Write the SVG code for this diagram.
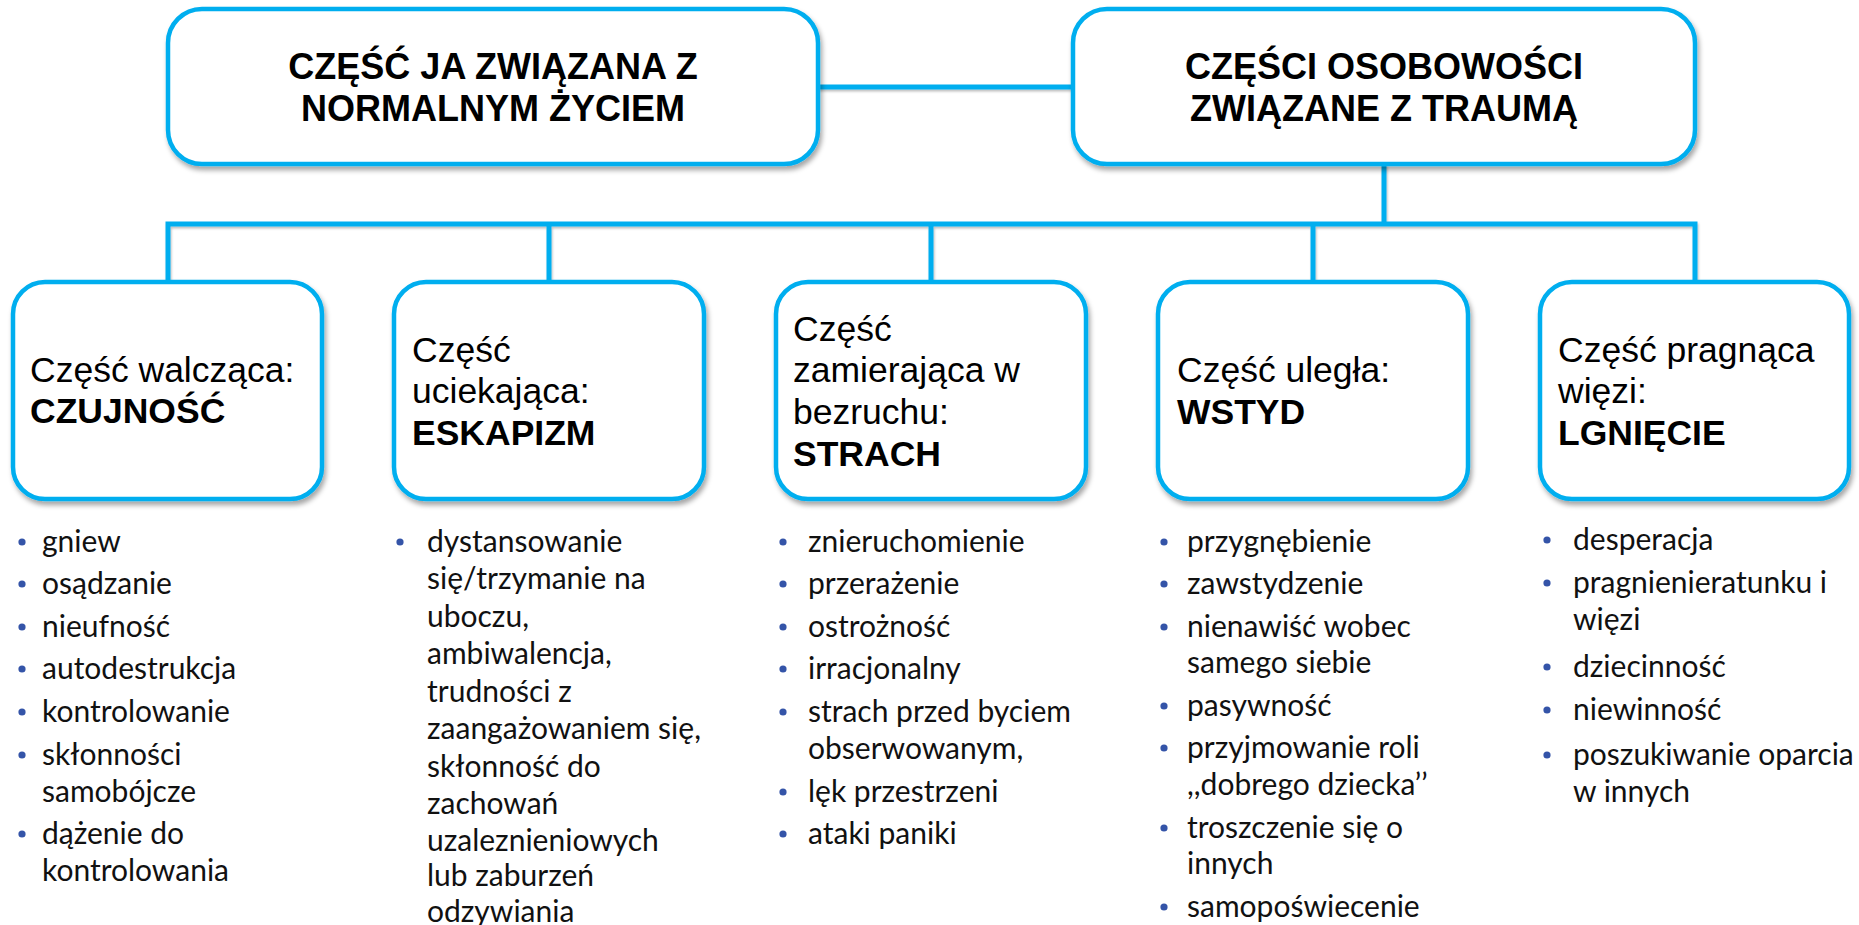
<svg xmlns="http://www.w3.org/2000/svg" width="1859" height="925" viewBox="0 0 1859 925">
  <defs>
    <filter id="sh" x="-10%" y="-10%" width="125%" height="130%">
      <feDropShadow dx="2" dy="4" stdDeviation="2.5" flood-color="#000" flood-opacity="0.35"/>
    </filter>
    <!-- user-space region so straight (zero-width/height) lines still render -->
    <filter id="lsh" filterUnits="userSpaceOnUse" x="0" y="0" width="1859" height="925">
      <feDropShadow dx="1" dy="2" stdDeviation="1.2" flood-color="#000" flood-opacity="0.25"/>
    </filter>
  </defs>
  <style>
    .box { fill:#ffffff; stroke:#00AEEF; stroke-width:4.5; filter:url(#sh); }
    .conn { stroke:#00AEEF; stroke-width:5; fill:none; }
    .head { font-family:"Liberation Sans", Arial, sans-serif; font-weight:bold; font-size:36px; text-anchor:middle; fill:#000; }
    .lbl { font-family:"Liberation Sans", Arial, sans-serif; font-size:35.5px; fill:#000; }
    .b { font-weight:bold; }
    .li { font-family:Lato, "Open Sans", sans-serif; font-size:30px; fill:#111; }
    .dot { fill:#3454A8; }
  </style>
  <rect width="1859" height="925" fill="#ffffff"/>

  <!-- connectors -->
  <g id="connectors" filter="url(#lsh)">
    <path class="conn" d="M818 87 H1073"/>
    <path class="conn" d="M1384 164 V224"/>
    <path class="conn" d="M168 282 V224 H1695 V282"/>
    <path class="conn" d="M549 224 V282"/>
    <path class="conn" d="M931 224 V282"/>
    <path class="conn" d="M1313 224 V282"/>
  </g>

  <!-- top level -->
  <g id="normal-life">
    <rect class="box" x="168" y="9" width="650" height="155" rx="34"/>
    <text class="head" x="493" y="79">CZĘŚĆ JA ZWIĄZANA Z</text>
    <text class="head" x="493" y="121">NORMALNYM ŻYCIEM</text>
  </g>
  <g id="trauma-parts">
    <rect class="box" x="1073" y="9" width="622" height="155" rx="34"/>
    <text class="head" x="1384" y="79">CZĘŚCI OSOBOWOŚCI</text>
    <text class="head" x="1384" y="121">ZWIĄZANE Z TRAUMĄ</text>
  </g>

  <!-- parts -->
  <g id="fight">
    <rect class="box" x="13" y="282" width="309" height="217" rx="32"/>
    <text class="lbl" x="30" y="382">Część walcząca:</text>
    <text class="lbl b" x="30" y="423">CZUJNOŚĆ</text>
  </g>
  <g id="flight">
    <rect class="box" x="394" y="282" width="310" height="217" rx="32"/>
    <text class="lbl" x="412" y="362">Część</text>
    <text class="lbl" x="412" y="403">uciekająca:</text>
    <text class="lbl b" x="412" y="445">ESKAPIZM</text>
  </g>
  <g id="freeze">
    <rect class="box" x="776" y="282" width="310" height="217" rx="32"/>
    <text class="lbl" x="793" y="341">Część</text>
    <text class="lbl" x="793" y="382">zamierająca w</text>
    <text class="lbl" x="793" y="424">bezruchu:</text>
    <text class="lbl b" x="793" y="466">STRACH</text>
  </g>
  <g id="submit">
    <rect class="box" x="1158" y="282" width="310" height="217" rx="32"/>
    <text class="lbl" x="1177" y="382">Część uległa:</text>
    <text class="lbl b" x="1177" y="424">WSTYD</text>
  </g>
  <g id="attach">
    <rect class="box" x="1540" y="282" width="309" height="217" rx="32"/>
    <text class="lbl" x="1558" y="362">Część pragnąca</text>
    <text class="lbl" x="1558" y="403">więzi:</text>
    <text class="lbl b" x="1558" y="445">LGNIĘCIE</text>
  </g>

  <!-- lists -->
  <g id="list-fight">
    <circle class="dot" cx="22" cy="542" r="3.6"/><text class="li" x="42" y="552">gniew</text>
    <circle class="dot" cx="22" cy="584" r="3.6"/><text class="li" x="42" y="594">osądzanie</text>
    <circle class="dot" cx="22" cy="627" r="3.6"/><text class="li" x="42" y="637">nieufność</text>
    <circle class="dot" cx="22" cy="669" r="3.6"/><text class="li" x="42" y="679">autodestrukcja</text>
    <circle class="dot" cx="22" cy="712" r="3.6"/><text class="li" x="42" y="722">kontrolowanie</text>
    <circle class="dot" cx="22" cy="755" r="3.6"/><text class="li" x="42" y="765">skłonności</text>
    <text class="li" x="42" y="802">samobójcze</text>
    <circle class="dot" cx="22" cy="834" r="3.6"/><text class="li" x="42" y="844">dążenie do</text>
    <text class="li" x="42" y="881">kontrolowania</text>
  </g>
  <g id="list-flight">
    <circle class="dot" cx="400" cy="542" r="3.6"/>
    <text class="li" x="427" y="552">dystansowanie</text>
    <text class="li" x="427" y="589">się/trzymanie na</text>
    <text class="li" x="427" y="627">uboczu,</text>
    <text class="li" x="427" y="664">ambiwalencja,</text>
    <text class="li" x="427" y="702">trudności z</text>
    <text class="li" x="427" y="739">zaangażowaniem się,</text>
    <text class="li" x="427" y="777">skłonność do</text>
    <text class="li" x="427" y="814">zachowań</text>
    <text class="li" x="427" y="851">uzaleznieniowych</text>
    <text class="li" x="427" y="886">lub zaburzeń</text>
    <text class="li" x="427" y="922">odzywiania</text>
  </g>
  <g id="list-freeze">
    <circle class="dot" cx="783" cy="542" r="3.6"/><text class="li" x="808" y="552">znieruchomienie</text>
    <circle class="dot" cx="783" cy="584" r="3.6"/><text class="li" x="808" y="594">przerażenie</text>
    <circle class="dot" cx="783" cy="627" r="3.6"/><text class="li" x="808" y="637">ostrożność</text>
    <circle class="dot" cx="783" cy="669" r="3.6"/><text class="li" x="808" y="679">irracjonalny</text>
    <circle class="dot" cx="783" cy="712" r="3.6"/><text class="li" x="808" y="722">strach przed byciem</text>
    <text class="li" x="808" y="759">obserwowanym,</text>
    <circle class="dot" cx="783" cy="792" r="3.6"/><text class="li" x="808" y="802">lęk przestrzeni</text>
    <circle class="dot" cx="783" cy="834" r="3.6"/><text class="li" x="808" y="844">ataki paniki</text>
  </g>
  <g id="list-submit">
    <circle class="dot" cx="1164" cy="542" r="3.6"/><text class="li" x="1187" y="552">przygnębienie</text>
    <circle class="dot" cx="1164" cy="584" r="3.6"/><text class="li" x="1187" y="594">zawstydzenie</text>
    <circle class="dot" cx="1164" cy="627" r="3.6"/><text class="li" x="1187" y="637">nienawiść wobec</text>
    <text class="li" x="1187" y="673">samego siebie</text>
    <circle class="dot" cx="1164" cy="706" r="3.6"/><text class="li" x="1187" y="716">pasywność</text>
    <circle class="dot" cx="1164" cy="748" r="3.6"/><text class="li" x="1187" y="758">przyjmowanie roli</text>
    <text class="li" x="1187" y="795">,,dobrego dziecka’’</text>
    <circle class="dot" cx="1164" cy="828" r="3.6"/><text class="li" x="1187" y="838">troszczenie się o</text>
    <text class="li" x="1187" y="874">innych</text>
    <circle class="dot" cx="1164" cy="907" r="3.6"/><text class="li" x="1187" y="917">samopoświecenie</text>
  </g>
  <g id="list-attach">
    <circle class="dot" cx="1547" cy="540" r="3.6"/><text class="li" x="1573" y="550">desperacja</text>
    <circle class="dot" cx="1547" cy="583" r="3.6"/><text class="li" x="1573" y="593">pragnienieratunku i</text>
    <text class="li" x="1573" y="630">więzi</text>
    <circle class="dot" cx="1547" cy="667" r="3.6"/><text class="li" x="1573" y="677">dziecinność</text>
    <circle class="dot" cx="1547" cy="710" r="3.6"/><text class="li" x="1573" y="720">niewinność</text>
    <circle class="dot" cx="1547" cy="755" r="3.6"/><text class="li" x="1573" y="765">poszukiwanie oparcia</text>
    <text class="li" x="1573" y="802">w innych</text>
  </g>
</svg>
